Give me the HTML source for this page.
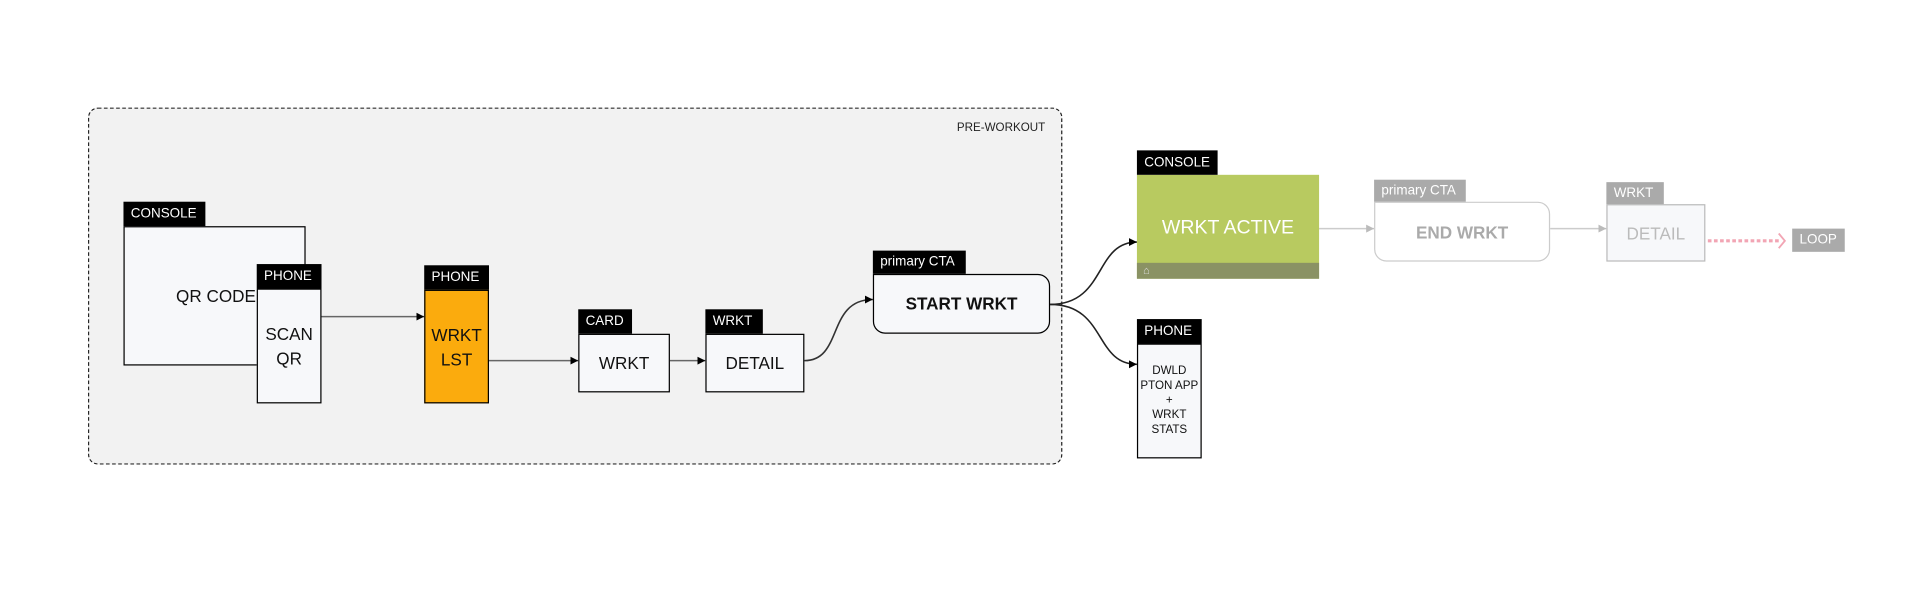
<!DOCTYPE html>
<html><head><meta charset="utf-8"><style>
html,body{margin:0;padding:0;background:#fff;width:1907px;height:589px;overflow:hidden}
#s{position:absolute;left:0;top:0;width:1560px;height:482px;transform:scale(1.2225);transform-origin:0 0;font-family:"Liberation Sans",sans-serif}
.a{position:absolute;box-sizing:border-box}
.t{background:#000;color:#fff;font-size:11px;line-height:20px;padding-left:6px}
.g{background:#aaa;color:#fff;font-size:11px;line-height:18px;padding-left:6px}
.b{border:1px solid #000;background:#f7f8fa;display:flex;align-items:center;justify-content:center;text-align:center;font-size:14px;color:#111}
</style></head><body><div id="s">
<div class="a" style="left:72px;top:88px;width:797px;height:292px;border:1px dashed #222;border-radius:8px;background:#f2f2f2"></div>
<div class="a" style="left:760px;top:99px;width:95px;text-align:right;font-size:9.5px;color:#222">PRE-WORKOUT</div>
<svg class="a" style="left:0;top:0" width="1560" height="482">
<defs><marker id="m" markerWidth="6" markerHeight="6" refX="5" refY="3" orient="auto"><path d="M0,0.5 L5,3 L0,5.5z" fill="#000"/></marker>
<marker id="mg" markerWidth="6" markerHeight="6" refX="5" refY="3" orient="auto"><path d="M0,0.5 L5,3 L0,5.5z" fill="#bbb"/></marker></defs>
<g fill="none" stroke="#666" stroke-width="1.3">
<path d="M263,259 H347" marker-end="url(#m)"/>
<path d="M400,295 H473" marker-end="url(#m)"/>
<path d="M548,295 H577" marker-end="url(#m)"/>
<path d="M658,295 C690,295 676,245 714,245" stroke="#333" marker-end="url(#m)"/>
<path d="M859,249 C905,249 895,198 930,198" stroke="#222" marker-end="url(#m)"/>
<path d="M859,249 C905,249 895,298 930,298" stroke="#222" marker-end="url(#m)"/>
</g>
<g fill="none" stroke="#ccc" stroke-width="1.3">
<path d="M1079,187 H1124" marker-end="url(#mg)"/>
<path d="M1268,187 H1314" marker-end="url(#mg)"/>
</g>
<path d="M1397,197 H1456" stroke="#f2a5b4" stroke-width="2.5" stroke-dasharray="3,2" fill="none"/>
<path d="M1455,191 L1460,197 L1455,203" stroke="#f2a5b4" stroke-width="1.5" fill="none"/>
</svg>
<div class="a b" style="left:101px;top:185px;width:149px;height:114px;justify-content:flex-start;padding-left:42px">QR CODE</div>
<div class="a t" style="left:101px;top:165px;width:67px">CONSOLE</div>
<div class="a b" style="left:210px;top:236px;width:53px;height:94px;line-height:20px">SCAN<br>QR</div>
<div class="a t" style="left:210px;top:216px;width:53px">PHONE</div>
<div class="a b" style="left:347px;top:237px;width:53px;height:93px;background:#fbab0d;line-height:20px">WRKT<br>LST</div>
<div class="a t" style="left:347px;top:217px;width:53px">PHONE</div>
<div class="a b" style="left:473px;top:273px;width:75px;height:48px">WRKT</div>
<div class="a t" style="left:473px;top:253px;width:44px">CARD</div>
<div class="a b" style="left:577px;top:273px;width:81px;height:48px">DETAIL</div>
<div class="a t" style="left:577px;top:253px;width:47px">WRKT</div>
<div class="a b" style="left:714px;top:224px;width:145px;height:49px;border-radius:0 10px 10px 10px;font-weight:bold;padding-bottom:2px">START WRKT</div>
<div class="a t" style="left:714px;top:205px;width:76px;line-height:19px">primary CTA</div>
<div class="a" style="left:930px;top:143px;width:149px;height:85px;background:#b8ca60;color:#fff;font-size:16px;text-align:center;line-height:88px">WRKT ACTIVE</div>
<div class="a" style="left:930px;top:215px;width:149px;height:13px;background:#8a9264;color:#ddd;font-size:9px;padding-left:5px;line-height:13px">⌂</div>
<div class="a t" style="left:930px;top:123px;width:66px">CONSOLE</div>
<div class="a b" style="left:930px;top:281px;width:53px;height:94px;font-size:9.5px;line-height:12px">DWLD<br>PTON APP<br>+<br>WRKT<br>STATS</div>
<div class="a t" style="left:930px;top:261px;width:53px">PHONE</div>
<div class="a b" style="left:1124px;top:165px;width:144px;height:49px;border-color:#ccc;background:#fff;border-radius:0 10px 10px 10px;color:#aaa;font-weight:bold">END WRKT</div>
<div class="a g" style="left:1124px;top:147px;width:75px">primary CTA</div>
<div class="a b" style="left:1314px;top:167px;width:81px;height:47px;border-color:#bbb;color:#bbb">DETAIL</div>
<div class="a g" style="left:1314px;top:149px;width:47px">WRKT</div>
<div class="a g" style="left:1466px;top:187px;width:43px;line-height:19px">LOOP</div>
</div></body></html>
